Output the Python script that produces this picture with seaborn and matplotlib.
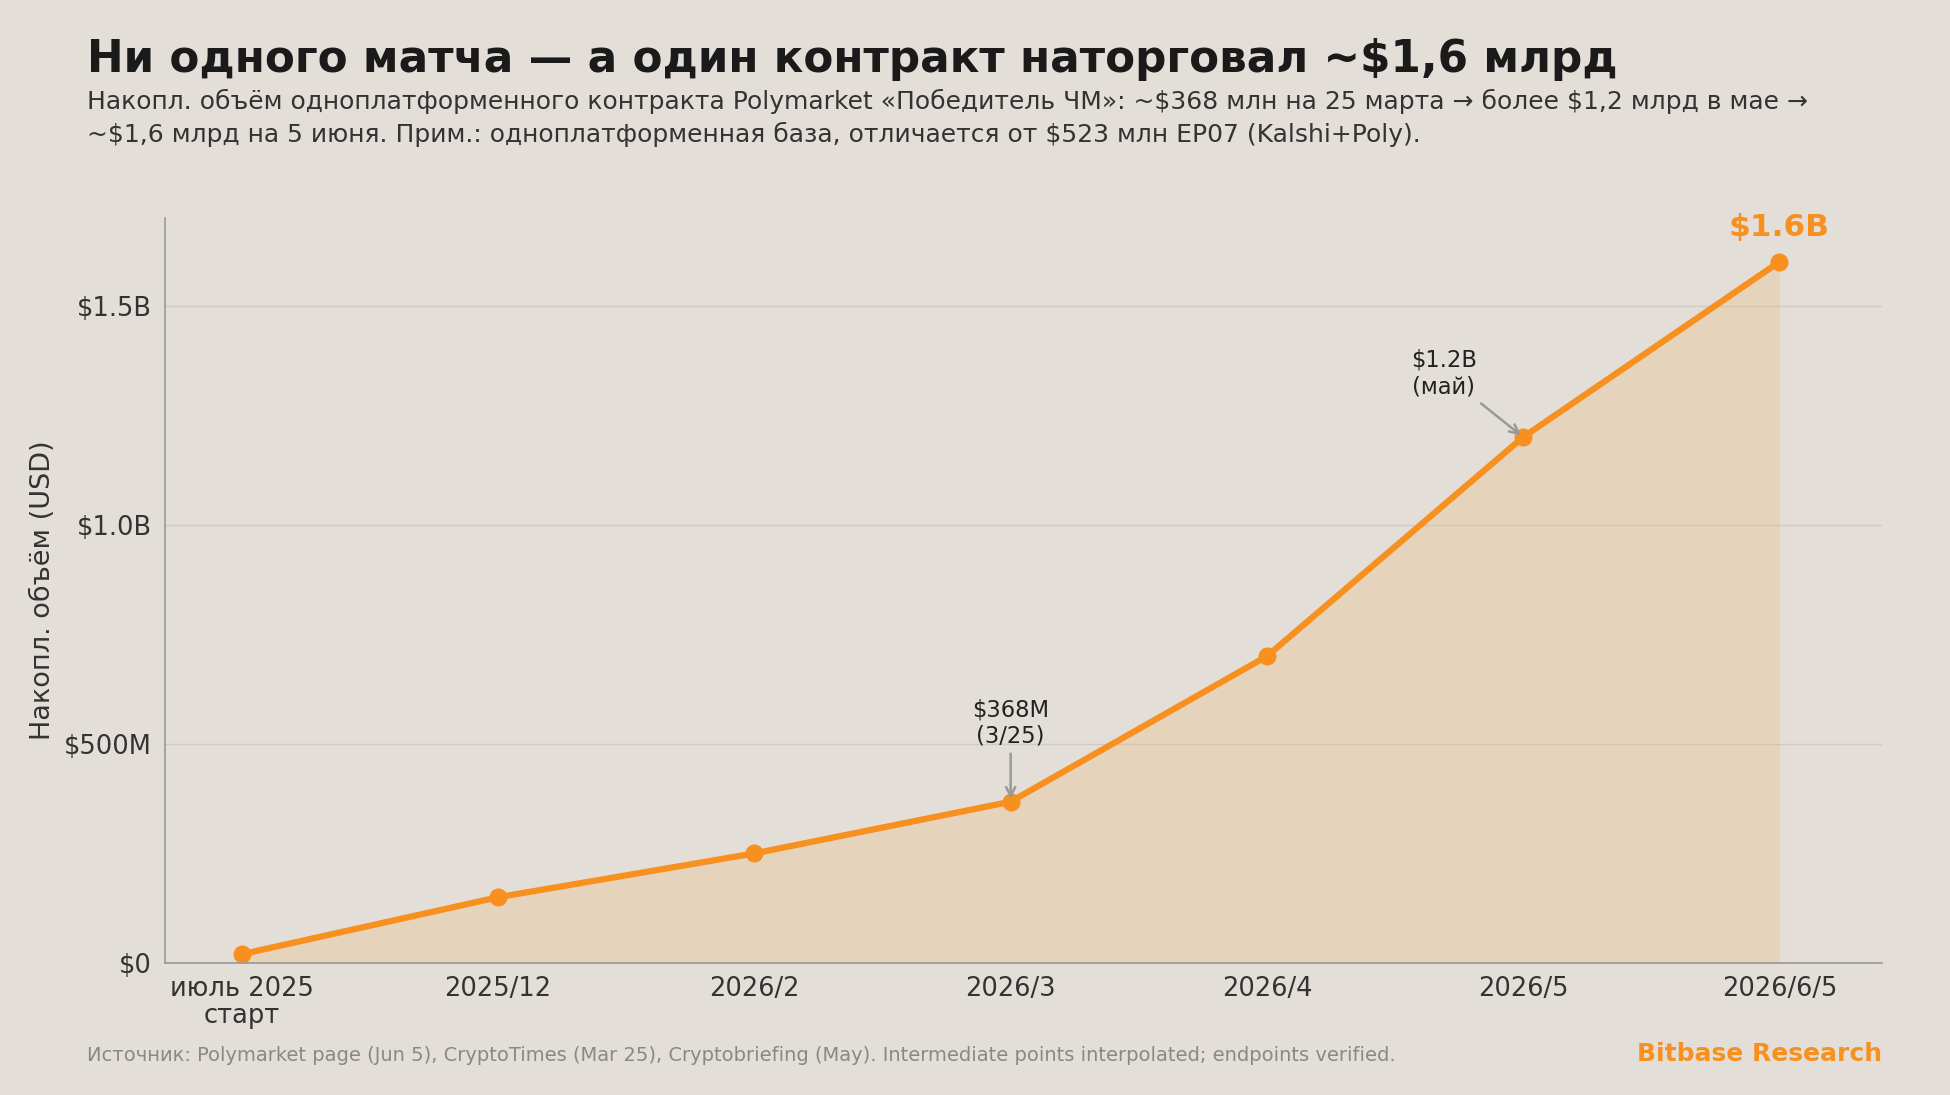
import matplotlib
matplotlib.use("Agg")
import matplotlib.pyplot as plt
import seaborn as sns
import pandas as pd

# DATA
labels = ["июль 2025\nстарт", "2025/12", "2026/2", "2026/3", "2026/4", "2026/5", "2026/6/5"]
volume = [0.02e9, 0.15e9, 0.25e9, 0.368e9, 0.70e9, 1.20e9, 1.60e9]
yticks = [0, 0.5e9, 1.0e9, 1.5e9]
ytick_labels = ["$0", "$500M", "$1.0B", "$1.5B"]

BG = "#E3DFD8"
ORANGE = "#F7901E"

sns.set_theme(style="white")
plt.rcParams["font.family"] = ["DejaVu Sans"]
plt.rcParams["text.parse_math"] = False

df = pd.DataFrame({"x": range(len(labels)), "volume": volume})

fig = plt.figure(figsize=(19.5, 10.95), dpi=100, facecolor=BG)
ax = fig.add_axes([0.0846, 0.1206, 0.8805, 0.6803])
ax.set_facecolor(BG)

ax.fill_between(df["x"], df["volume"], color="#F0B36A", alpha=0.25, linewidth=0)
sns.lineplot(data=df, x="x", y="volume", ax=ax, color=ORANGE, linewidth=4.5,
             marker="o", markersize=13, markeredgewidth=0)

ax.set_xlim(-0.3, 6.4)
ax.set_ylim(0, 1.7e9)
ax.set_xticks(range(len(labels)))
ax.set_xticklabels(labels, fontsize=18.5, color="#333333", linespacing=1.05)
ax.set_yticks(yticks)
ax.set_yticklabels(ytick_labels, fontsize=18.5, color="#333333")
ax.tick_params(axis="both", length=6, color="#999999", width=1)
ax.yaxis.grid(True, color="#CFCAC2", linewidth=1)
ax.set_axisbelow(True)
for s in ["top", "right"]:
    ax.spines[s].set_visible(False)
for s in ["left", "bottom"]:
    ax.spines[s].set_color("#999999")
    ax.spines[s].set_linewidth(1.2)
ax.set_xlabel("")
ax.set_ylabel("Накопл. объём (USD)", fontsize=19.5, color="#333333", labelpad=6)

# annotations
ax.annotate("$368M\n(3/25)", xy=(3, volume[3]), xytext=(3, volume[3] + 0.18e9),
            ha="center", va="center", fontsize=16.3, color="#222222",
            arrowprops=dict(arrowstyle="->", color="#999999", lw=1.8))
ax.annotate("$1.2B\n(май)", xy=(5, volume[5]), xytext=(4.69, volume[5] + 0.145e9),
            ha="center", va="center", fontsize=16.3, color="#222222",
            arrowprops=dict(arrowstyle="->", color="#999999", lw=1.8))
ax.annotate("$1.6B", xy=(6, volume[6]), xytext=(0, 14), textcoords="offset points",
            ha="center", va="bottom", fontsize=22.5, fontweight="bold", color=ORANGE)

fig.text(0.0446, 0.946, "Ни одного матча — а один контракт наторговал ~$1,6 млрд",
         fontsize=31.5, fontweight="bold", color="#1A1A1A", va="center")
fig.text(0.0446, 0.907,
         "Накопл. объём одноплатформенного контракта Polymarket «Победитель ЧМ»: ~$368 млн на 25 марта → более $1,2 млрд в мае →",
         fontsize=18, color="#333333", va="center")
fig.text(0.0446, 0.877,
         "~$1,6 млрд на 5 июня. Прим.: одноплатформенная база, отличается от $523 млн EP07 (Kalshi+Poly).",
         fontsize=18, color="#333333", va="center")
fig.text(0.0446, 0.036,
         "Источник: Polymarket page (Jun 5), CryptoTimes (Mar 25), Cryptobriefing (May). Intermediate points interpolated; endpoints verified.",
         fontsize=14, color="#888888", va="center")
fig.text(0.965, 0.037, "Bitbase Research", fontsize=18, fontweight="bold",
         color=ORANGE, va="center", ha="right")

fig.savefig("out.png", dpi=100, facecolor=BG)
